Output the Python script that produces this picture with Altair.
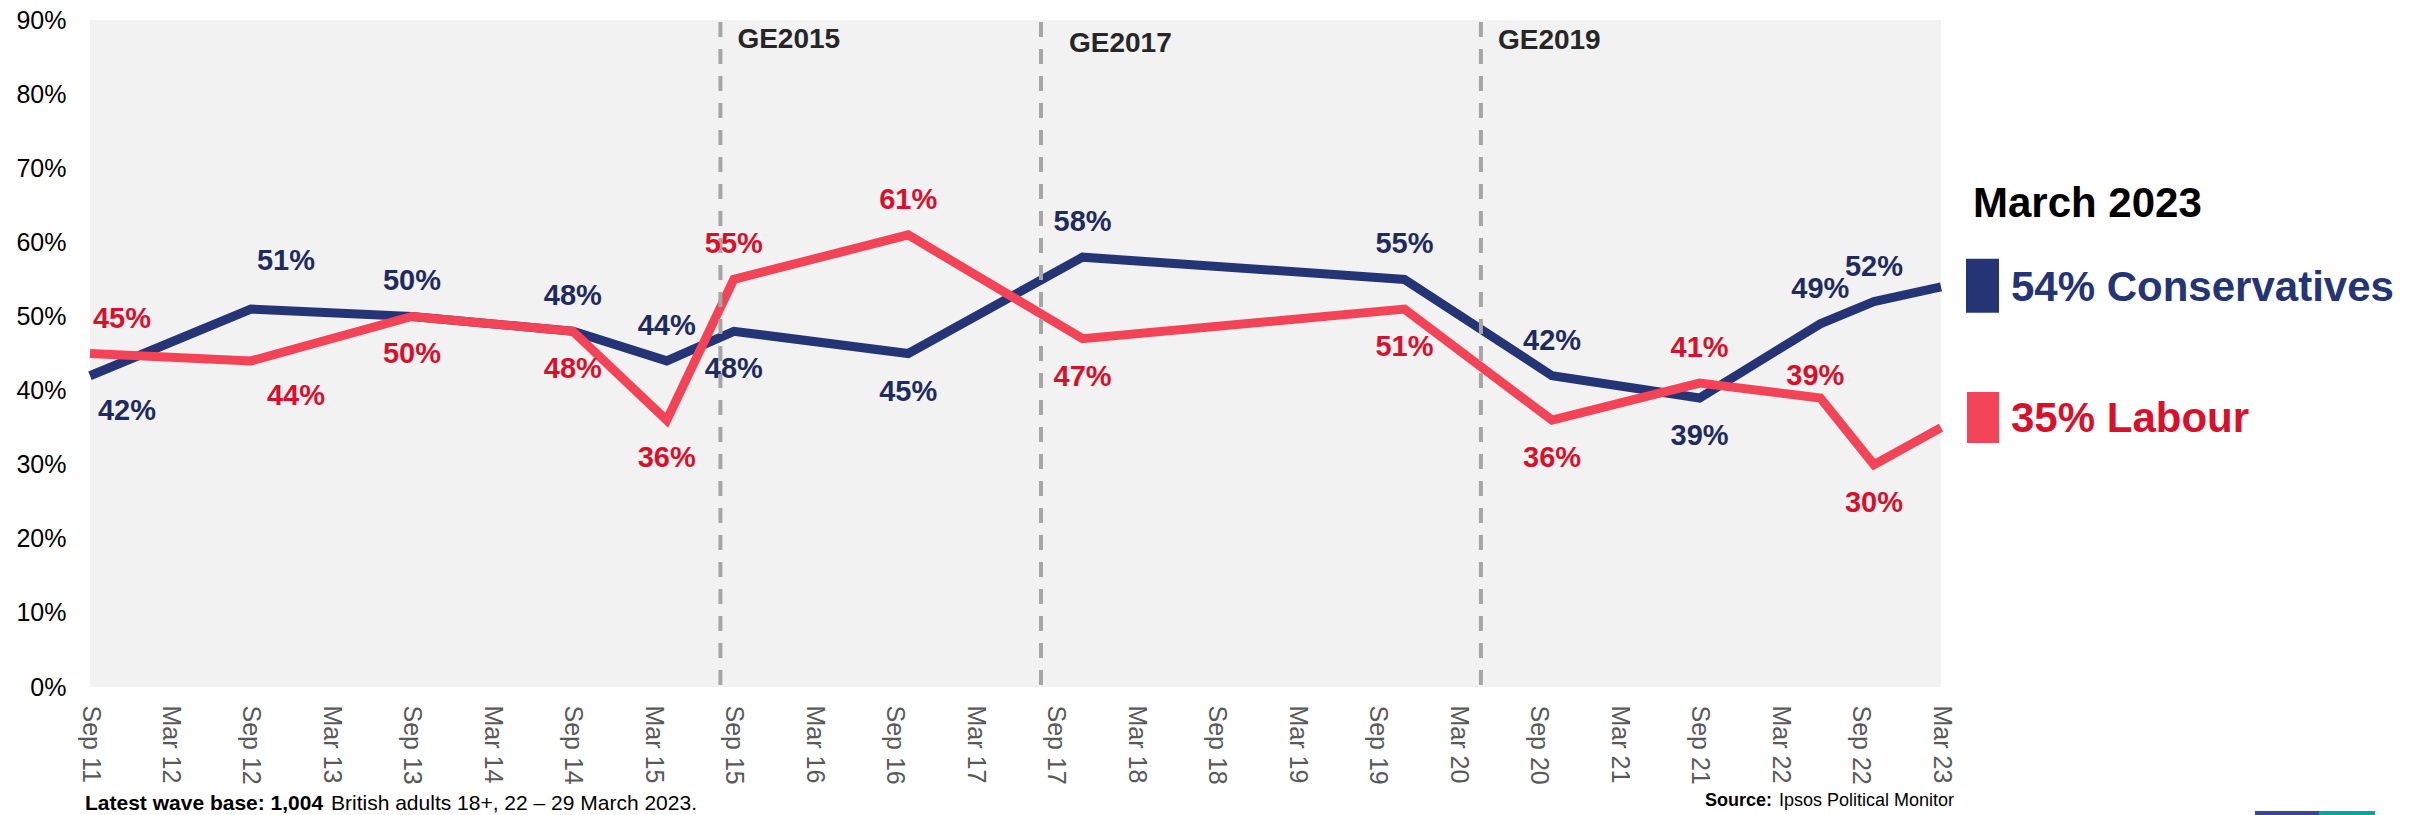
import json
import altair as alt
import pandas as pd

# ---------------- data ----------------
# survey waves, as months after September 2011
wave_months = [0, 12, 24, 36, 43, 48, 61, 74, 98, 109, 120, 129, 133, 138]
conservatives = [42, 51, 50, 48, 44, 48, 45, 58, 55, 42, 39, 49, 52, 54]
labour = [45, 44, 50, 48, 36, 55, 61, 47, 51, 36, 41, 39, 30, 35]

tick_months = list(range(0, 139, 6))
tick_labels = ["Sep 11", "Mar 12", "Sep 12", "Mar 13", "Sep 13", "Mar 14",
               "Sep 14", "Mar 15", "Sep 15", "Mar 16", "Sep 16", "Mar 17",
               "Sep 17", "Mar 18", "Sep 18", "Mar 19", "Sep 19", "Mar 20",
               "Sep 20", "Mar 21", "Sep 21", "Mar 22", "Sep 22", "Mar 23"]
y_ticks = [0, 10, 20, 30, 40, 50, 60, 70, 80, 90]

elections = ["GE2015", "GE2017", "GE2019"]
election_months = [47.0, 70.9, 103.7]

legend_title = "March 2023"
footer_bold = "Latest wave base: 1,004"
footer_text = "British adults 18+, 22 \u2013 29 March 2023."
source_bold = "Source:"
source_text = "Ipsos  Political Monitor"

# ---------------- styling ----------------
CON_LINE = "#253474"
CON_TEXT = "#1F2B5E"
LAB_LINE = "#F24357"
LAB_TEXT = "#D9102B"
FONT = "Liberation Sans"

# label placement codes per wave (style only)
con_place = ["bf", "a51", "a", "a", "a", "b", "b", "a", "a", "a", "b", "a", "a", ""]
lab_place = ["af", "b44", "b", "b", "b", "a", "a", "b", "b", "b", "a", "a39", "b", ""]
place_offsets = {
    "a": (0, -35), "b": (0, 38), "bf": (37, 35), "a51": (35, -48),
    "af": (32, -35), "b44": (45, 35), "a39": (-5, -22),
}
ge_offsets = [(17, 20), (28, 24), (17, 21)]

W, H = 1851, 667

X_ENC = alt.X(
    "month:Q",
    scale=alt.Scale(domain=[0, 138], nice=False, zero=False),
    axis=alt.Axis(
        values=tick_months,
        labelExpr=json.dumps(tick_labels) + "[round(datum.value / 6)]",
        labelAngle=90, labelAlign="left", labelBaseline="middle",
        labelFontSize=25, labelColor="#595959", labelPadding=18,
        ticks=False, tickSize=0, domain=False, grid=False,
        labelOverlap=False, labelFlush=False, labelBound=False, title=None,
    ),
)
Y_ENC = alt.Y(
    "value:Q",
    scale=alt.Scale(domain=[0, 90], nice=False, zero=True),
    axis=alt.Axis(
        values=y_ticks, labelExpr="datum.value + '%'",
        labelFontSize=25, labelColor="#000000", labelPadding=24,
        ticks=False, tickSize=0, domain=False, grid=False,
        labelOverlap=False, labelFlush=False, title=None,
    ),
)


def party_df(values, places):
    return pd.DataFrame({
        "month": wave_months,
        "value": values,
        "label": [f"{v}%" for v in values],
        "place": places,
    })


con_df = party_df(conservatives, con_place)
lab_df = party_df(labour, lab_place)

layers = []
layers.append(alt.Chart(con_df).mark_line(color=CON_LINE, strokeWidth=9)
              .encode(x=X_ENC, y=Y_ENC))
layers.append(alt.Chart(lab_df).mark_line(color=LAB_LINE, strokeWidth=9)
              .encode(x=X_ENC, y=Y_ENC))

# election dashed lines
ge_df = pd.DataFrame({"month": election_months, "name": elections})
layers.append(alt.Chart(ge_df).mark_rule(color="#A6A6A6", strokeWidth=4,
                                         strokeDash=[15, 12])
              .encode(x=X_ENC, y=alt.value(2), y2=alt.value(H)))
for i, name in enumerate(elections):
    dx, yy = ge_offsets[i]
    layers.append(
        alt.Chart(ge_df[ge_df["name"] == name])
        .mark_text(align="left", baseline="middle", dx=dx, fontSize=28,
                   fontWeight="bold", color="#262626", font=FONT)
        .encode(x=X_ENC, y=alt.value(yy), text="name:N")
    )

# value labels
for df, color in [(con_df, CON_TEXT), (lab_df, LAB_TEXT)]:
    for code, (dx, dy) in place_offsets.items():
        sub = df[df["place"] == code]
        if len(sub) == 0:
            continue
        layers.append(
            alt.Chart(sub).mark_text(align="center", baseline="middle",
                                     dx=dx, dy=dy, fontSize=29,
                                     fontWeight="bold", color=color, font=FONT)
            .encode(x=X_ENC, y=Y_ENC, text="label:N")
        )

# right-hand legend
leg_con = pd.DataFrame({"value": [conservatives[-1]],
                        "label": [f"{conservatives[-1]}% Conservatives"]})
leg_lab = pd.DataFrame({"value": [labour[-1]],
                        "label": [f"{labour[-1]}% Labour"]})
layers.append(alt.Chart(leg_con).mark_tick(orient="vertical", size=54,
                                           thickness=33, color=CON_LINE,
                                           opacity=1, yOffset=-1)
              .encode(x=alt.value(1892.5), y=Y_ENC))
layers.append(alt.Chart(leg_lab).mark_tick(orient="vertical", size=51,
                                           thickness=32, color=LAB_LINE,
                                           opacity=1, yOffset=-10)
              .encode(x=alt.value(1893), y=Y_ENC))
layers.append(alt.Chart(leg_con).mark_text(align="left", baseline="middle",
                                           fontSize=42, fontWeight="bold",
                                           color=CON_LINE, font=FONT, dy=1)
              .encode(x=alt.value(1921), y=Y_ENC, text="label:N"))
layers.append(alt.Chart(leg_lab).mark_text(align="left", baseline="middle",
                                           fontSize=42, fontWeight="bold",
                                           color=LAB_TEXT, font=FONT, dy=-9)
              .encode(x=alt.value(1921), y=Y_ENC, text="label:N"))
layers.append(alt.Chart(pd.DataFrame({"t": [legend_title]}))
              .mark_text(align="left", baseline="middle", fontSize=42,
                         fontWeight="bold", color="#000000", font=FONT)
              .encode(x=alt.value(1883), y=alt.value(184), text="t:N"))

# footer texts
layers.append(alt.Chart(pd.DataFrame({"t": [footer_bold]}))
              .mark_text(align="left", baseline="alphabetic", fontSize=21,
                         fontWeight="bold", color="#000000", font=FONT)
              .encode(x=alt.value(-5), y=alt.value(790), text="t:N"))
layers.append(alt.Chart(pd.DataFrame({"t": [footer_text]}))
              .mark_text(align="left", baseline="alphabetic", fontSize=21,
                         color="#000000", font=FONT)
              .encode(x=alt.value(241), y=alt.value(790), text="t:N"))
layers.append(alt.Chart(pd.DataFrame({"t": [source_bold]}))
              .mark_text(align="left", baseline="alphabetic", fontSize=18,
                         fontWeight="bold", color="#000000", font=FONT)
              .encode(x=alt.value(1615), y=alt.value(786), text="t:N"))
layers.append(alt.Chart(pd.DataFrame({"t": [source_text]}))
              .mark_text(align="left", baseline="alphabetic", fontSize=18,
                         color="#000000", font=FONT)
              .encode(x=alt.value(1689), y=alt.value(786), text="t:N"))

# small logo strip at the bottom right
strip = pd.DataFrame({"a": [0]})
layers.append(alt.Chart(strip).mark_rule(color="#3A4597", strokeWidth=4)
              .encode(x=alt.value(2165), x2=alt.value(2229), y=alt.value(793)))
layers.append(alt.Chart(strip).mark_rule(color="#0DA59B", strokeWidth=4)
              .encode(x=alt.value(2229), x2=alt.value(2285), y=alt.value(793)))

chart = (
    alt.layer(*layers)
    .properties(
        width=W, height=H,
        padding={"left": 82, "top": 12, "right": 474, "bottom": 128},
        autosize=alt.AutoSizeParams(type="none"),
    )
    .configure(font=FONT)
    .configure_view(fill="#F2F2F2", strokeWidth=0)
)

chart.save("out.html", embed_options={"renderer": "svg", "actions": False})
